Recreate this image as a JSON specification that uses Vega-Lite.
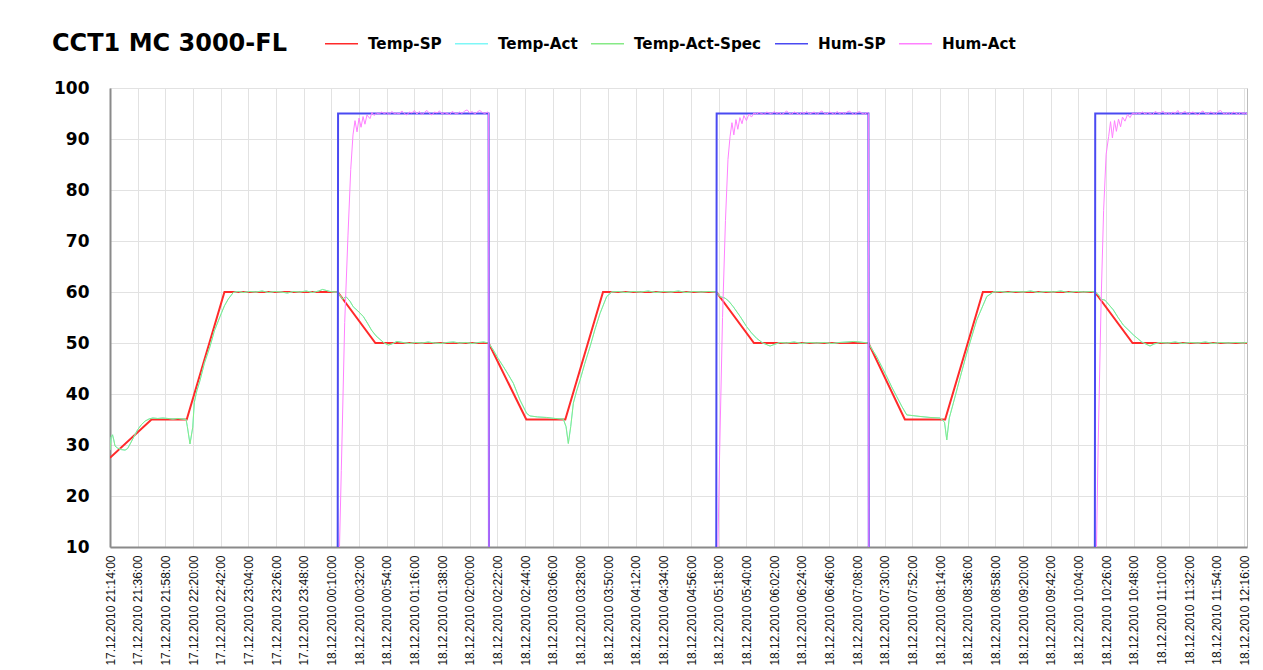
{
  "$schema": "https://vega.github.io/schema/vega-lite/v6.json",
  "width": 1137,
  "height": 459,
  "autosize": {"type": "none"},
  "padding": {"left": 110, "top": 88, "right": 16, "bottom": 123},
  "background": "white",
  "title": {
    "text": "CCT1 MC 3000-FL",
    "anchor": "start",
    "frame": "group",
    "dx": -58,
    "dy": 49,
    "offset": 0,
    "baseline": "alphabetic",
    "font": "DejaVu Sans",
    "fontSize": 24,
    "fontWeight": "bold",
    "color": "#000000"
  },
  "config": {
    "view": {"stroke": "#bcbcbc", "strokeWidth": 1}
  },
  "datasets": {
    "tempSP": [
      {"t": "2010-12-17T21:14", "v": 27.5},
      {"t": "2010-12-17T21:47", "v": 35},
      {"t": "2010-12-17T22:15", "v": 35},
      {"t": "2010-12-17T22:45", "v": 60},
      {"t": "2010-12-18T00:15", "v": 60},
      {"t": "2010-12-18T00:45", "v": 50},
      {"t": "2010-12-18T02:15", "v": 50},
      {"t": "2010-12-18T02:45", "v": 35},
      {"t": "2010-12-18T03:16", "v": 35},
      {"t": "2010-12-18T03:46", "v": 60},
      {"t": "2010-12-18T05:16", "v": 60},
      {"t": "2010-12-18T05:46", "v": 50},
      {"t": "2010-12-18T07:17", "v": 50},
      {"t": "2010-12-18T07:46", "v": 35},
      {"t": "2010-12-18T08:18", "v": 35},
      {"t": "2010-12-18T08:48", "v": 60},
      {"t": "2010-12-18T10:17", "v": 60},
      {"t": "2010-12-18T10:47", "v": 50},
      {"t": "2010-12-18T12:18", "v": 50}
    ],
    "tempAct": [
      {"t": "2010-12-17T21:14", "v": 29.0},
      {"t": "2010-12-17T21:15", "v": 31.6},
      {"t": "2010-12-17T21:16", "v": 32.0},
      {"t": "2010-12-17T21:17", "v": 31.0},
      {"t": "2010-12-17T21:18", "v": 29.8},
      {"t": "2010-12-17T21:20", "v": 29.4},
      {"t": "2010-12-17T21:23", "v": 29.1},
      {"t": "2010-12-17T21:26", "v": 29.0},
      {"t": "2010-12-17T21:28", "v": 29.3},
      {"t": "2010-12-17T21:30", "v": 30.2},
      {"t": "2010-12-17T21:33", "v": 31.6},
      {"t": "2010-12-17T21:36", "v": 33.0},
      {"t": "2010-12-17T21:39", "v": 34.0},
      {"t": "2010-12-17T21:42", "v": 34.7},
      {"t": "2010-12-17T21:45", "v": 35.1},
      {"t": "2010-12-17T21:48", "v": 35.3},
      {"t": "2010-12-17T21:52", "v": 35.2},
      {"t": "2010-12-17T21:56", "v": 35.3},
      {"t": "2010-12-17T22:00", "v": 35.2},
      {"t": "2010-12-17T22:04", "v": 35.1},
      {"t": "2010-12-17T22:08", "v": 35.2},
      {"t": "2010-12-17T22:12", "v": 35.1},
      {"t": "2010-12-17T22:14:30", "v": 35.0},
      {"t": "2010-12-17T22:15:30", "v": 33.6},
      {"t": "2010-12-17T22:17:36", "v": 30.2},
      {"t": "2010-12-17T22:19:48", "v": 33.5},
      {"t": "2010-12-17T22:21", "v": 38.3},
      {"t": "2010-12-17T22:23", "v": 40.6},
      {"t": "2010-12-17T22:25:36", "v": 42.7},
      {"t": "2010-12-17T22:29", "v": 46.0},
      {"t": "2010-12-17T22:33:30", "v": 49.3},
      {"t": "2010-12-17T22:37", "v": 52.4},
      {"t": "2010-12-17T22:41:30", "v": 55.2},
      {"t": "2010-12-17T22:45", "v": 57.3},
      {"t": "2010-12-17T22:48", "v": 58.6},
      {"t": "2010-12-17T22:52", "v": 59.9},
      {"t": "2010-12-17T22:56", "v": 60.1},
      {"t": "2010-12-17T23:00", "v": 59.9},
      {"t": "2010-12-17T23:05", "v": 60.1},
      {"t": "2010-12-17T23:10", "v": 60.0},
      {"t": "2010-12-17T23:15", "v": 60.2},
      {"t": "2010-12-17T23:20", "v": 59.9},
      {"t": "2010-12-17T23:25", "v": 60.1},
      {"t": "2010-12-17T23:30", "v": 60.0},
      {"t": "2010-12-17T23:35", "v": 59.8},
      {"t": "2010-12-17T23:40", "v": 60.1},
      {"t": "2010-12-17T23:45", "v": 60.0},
      {"t": "2010-12-17T23:50", "v": 60.2},
      {"t": "2010-12-17T23:55", "v": 59.9},
      {"t": "2010-12-18T00:00", "v": 60.2},
      {"t": "2010-12-18T00:03", "v": 60.5},
      {"t": "2010-12-18T00:06", "v": 60.3},
      {"t": "2010-12-18T00:09", "v": 60.1},
      {"t": "2010-12-18T00:12", "v": 60.0},
      {"t": "2010-12-18T00:15", "v": 60.0},
      {"t": "2010-12-18T00:17", "v": 59.3},
      {"t": "2010-12-18T00:19", "v": 58.6},
      {"t": "2010-12-18T00:21:36", "v": 59.1},
      {"t": "2010-12-18T00:24:48", "v": 58.2},
      {"t": "2010-12-18T00:27:24", "v": 57.1},
      {"t": "2010-12-18T00:31", "v": 56.3},
      {"t": "2010-12-18T00:35:24", "v": 55.2},
      {"t": "2010-12-18T00:38:42", "v": 53.9},
      {"t": "2010-12-18T00:42", "v": 52.5},
      {"t": "2010-12-18T00:45:30", "v": 51.4},
      {"t": "2010-12-18T00:48:42", "v": 50.7},
      {"t": "2010-12-18T00:52", "v": 50.0},
      {"t": "2010-12-18T00:55:18", "v": 49.6},
      {"t": "2010-12-18T00:58", "v": 49.8},
      {"t": "2010-12-18T01:02", "v": 50.3},
      {"t": "2010-12-18T01:07", "v": 50.1},
      {"t": "2010-12-18T01:12", "v": 49.9},
      {"t": "2010-12-18T01:17", "v": 50.1},
      {"t": "2010-12-18T01:22", "v": 50.0},
      {"t": "2010-12-18T01:27", "v": 50.2},
      {"t": "2010-12-18T01:32", "v": 50.0},
      {"t": "2010-12-18T01:37", "v": 49.9},
      {"t": "2010-12-18T01:42", "v": 50.1},
      {"t": "2010-12-18T01:47", "v": 50.2},
      {"t": "2010-12-18T01:52", "v": 50.0},
      {"t": "2010-12-18T01:57", "v": 50.1},
      {"t": "2010-12-18T02:02", "v": 49.9},
      {"t": "2010-12-18T02:07", "v": 50.1},
      {"t": "2010-12-18T02:11", "v": 50.2},
      {"t": "2010-12-18T02:15", "v": 50.0},
      {"t": "2010-12-18T02:18:48", "v": 48.6},
      {"t": "2010-12-18T02:22:30", "v": 47.0},
      {"t": "2010-12-18T02:26:42", "v": 45.4},
      {"t": "2010-12-18T02:30:40", "v": 43.8},
      {"t": "2010-12-18T02:34:42", "v": 42.1},
      {"t": "2010-12-18T02:40", "v": 38.8},
      {"t": "2010-12-18T02:45:18", "v": 36.2},
      {"t": "2010-12-18T02:47:54", "v": 35.7},
      {"t": "2010-12-18T02:54", "v": 35.5},
      {"t": "2010-12-18T03:01", "v": 35.4},
      {"t": "2010-12-18T03:08", "v": 35.2},
      {"t": "2010-12-18T03:14:24", "v": 35.1},
      {"t": "2010-12-18T03:16:36", "v": 33.6},
      {"t": "2010-12-18T03:18:24", "v": 30.3},
      {"t": "2010-12-18T03:20:18", "v": 33.6},
      {"t": "2010-12-18T03:22:24", "v": 38.2},
      {"t": "2010-12-18T03:25", "v": 40.6},
      {"t": "2010-12-18T03:27:42", "v": 42.7},
      {"t": "2010-12-18T03:31:30", "v": 46.0},
      {"t": "2010-12-18T03:35:42", "v": 49.3},
      {"t": "2010-12-18T03:39:30", "v": 52.6},
      {"t": "2010-12-18T03:43:36", "v": 55.8},
      {"t": "2010-12-18T03:48:54", "v": 59.1},
      {"t": "2010-12-18T03:52:54", "v": 60.0},
      {"t": "2010-12-18T03:58", "v": 60.1},
      {"t": "2010-12-18T04:04", "v": 59.9},
      {"t": "2010-12-18T04:10", "v": 60.1},
      {"t": "2010-12-18T04:16", "v": 60.0},
      {"t": "2010-12-18T04:22", "v": 60.2},
      {"t": "2010-12-18T04:28", "v": 59.9},
      {"t": "2010-12-18T04:34", "v": 60.1},
      {"t": "2010-12-18T04:40", "v": 60.0},
      {"t": "2010-12-18T04:46", "v": 60.2},
      {"t": "2010-12-18T04:52", "v": 59.9},
      {"t": "2010-12-18T04:58", "v": 60.1},
      {"t": "2010-12-18T05:04", "v": 60.0},
      {"t": "2010-12-18T05:10", "v": 60.1},
      {"t": "2010-12-18T05:16", "v": 60.0},
      {"t": "2010-12-18T05:19", "v": 59.1},
      {"t": "2010-12-18T05:23", "v": 58.8},
      {"t": "2010-12-18T05:26", "v": 58.2},
      {"t": "2010-12-18T05:29:36", "v": 57.1},
      {"t": "2010-12-18T05:35", "v": 55.2},
      {"t": "2010-12-18T05:40:12", "v": 53.2},
      {"t": "2010-12-18T05:44", "v": 52.0},
      {"t": "2010-12-18T05:48:12", "v": 50.9},
      {"t": "2010-12-18T05:53", "v": 50.0},
      {"t": "2010-12-18T05:58:48", "v": 49.4},
      {"t": "2010-12-18T06:02", "v": 49.7},
      {"t": "2010-12-18T06:06:42", "v": 50.1},
      {"t": "2010-12-18T06:12", "v": 50.0},
      {"t": "2010-12-18T06:18", "v": 50.2},
      {"t": "2010-12-18T06:24", "v": 49.9},
      {"t": "2010-12-18T06:30", "v": 50.1},
      {"t": "2010-12-18T06:36", "v": 50.0},
      {"t": "2010-12-18T06:42", "v": 50.1},
      {"t": "2010-12-18T06:48", "v": 49.9},
      {"t": "2010-12-18T06:54", "v": 50.1},
      {"t": "2010-12-18T07:00", "v": 50.2},
      {"t": "2010-12-18T07:05", "v": 50.3},
      {"t": "2010-12-18T07:10", "v": 50.2},
      {"t": "2010-12-18T07:16:54", "v": 50.0},
      {"t": "2010-12-18T07:23:36", "v": 47.3},
      {"t": "2010-12-18T07:27:30", "v": 45.4},
      {"t": "2010-12-18T07:31:36", "v": 43.4},
      {"t": "2010-12-18T07:35:30", "v": 41.4},
      {"t": "2010-12-18T07:39:30", "v": 39.5},
      {"t": "2010-12-18T07:43:30", "v": 37.6},
      {"t": "2010-12-18T07:47:30", "v": 35.9},
      {"t": "2010-12-18T07:58", "v": 35.6},
      {"t": "2010-12-18T08:06", "v": 35.4},
      {"t": "2010-12-18T08:13:54", "v": 35.3},
      {"t": "2010-12-18T08:17:30", "v": 34.5},
      {"t": "2010-12-18T08:19:18", "v": 31.0},
      {"t": "2010-12-18T08:21:18", "v": 35.3},
      {"t": "2010-12-18T08:24:30", "v": 38.2},
      {"t": "2010-12-18T08:30", "v": 43.3},
      {"t": "2010-12-18T08:35:12", "v": 48.0},
      {"t": "2010-12-18T08:43:06", "v": 54.5},
      {"t": "2010-12-18T08:51:06", "v": 59.1},
      {"t": "2010-12-18T08:56:18", "v": 60.0},
      {"t": "2010-12-18T09:02", "v": 60.1},
      {"t": "2010-12-18T09:08", "v": 59.9},
      {"t": "2010-12-18T09:14", "v": 60.1},
      {"t": "2010-12-18T09:20", "v": 60.0},
      {"t": "2010-12-18T09:26", "v": 60.2},
      {"t": "2010-12-18T09:32", "v": 59.9},
      {"t": "2010-12-18T09:38", "v": 60.1},
      {"t": "2010-12-18T09:44", "v": 60.0},
      {"t": "2010-12-18T09:50", "v": 60.2},
      {"t": "2010-12-18T09:56", "v": 59.9},
      {"t": "2010-12-18T10:02", "v": 60.1},
      {"t": "2010-12-18T10:08", "v": 60.0},
      {"t": "2010-12-18T10:14", "v": 60.1},
      {"t": "2010-12-18T10:17", "v": 60.0},
      {"t": "2010-12-18T10:19:48", "v": 59.5},
      {"t": "2010-12-18T10:22", "v": 58.6},
      {"t": "2010-12-18T10:25:06", "v": 58.4},
      {"t": "2010-12-18T10:31:42", "v": 56.5},
      {"t": "2010-12-18T10:35:30", "v": 55.0},
      {"t": "2010-12-18T10:39:42", "v": 53.5},
      {"t": "2010-12-18T10:43:30", "v": 52.6},
      {"t": "2010-12-18T10:47:36", "v": 51.6},
      {"t": "2010-12-18T10:54:18", "v": 50.2},
      {"t": "2010-12-18T11:00:54", "v": 49.4},
      {"t": "2010-12-18T11:04", "v": 49.8},
      {"t": "2010-12-18T11:08:54", "v": 50.1},
      {"t": "2010-12-18T11:15", "v": 50.0},
      {"t": "2010-12-18T11:21", "v": 50.2},
      {"t": "2010-12-18T11:27", "v": 49.9},
      {"t": "2010-12-18T11:33", "v": 50.1},
      {"t": "2010-12-18T11:39", "v": 50.0},
      {"t": "2010-12-18T11:45", "v": 50.2},
      {"t": "2010-12-18T11:51", "v": 49.9},
      {"t": "2010-12-18T11:57", "v": 50.1},
      {"t": "2010-12-18T12:03", "v": 50.0},
      {"t": "2010-12-18T12:09", "v": 50.1},
      {"t": "2010-12-18T12:15", "v": 50.0},
      {"t": "2010-12-18T12:18", "v": 50.1}
    ],
    "humSP": [
      {"t": "2010-12-17T21:14", "v": 0},
      {"t": "2010-12-18T00:15", "v": 0},
      {"t": "2010-12-18T00:15:20", "v": 95},
      {"t": "2010-12-18T02:15", "v": 95},
      {"t": "2010-12-18T02:15:20", "v": 0},
      {"t": "2010-12-18T05:16", "v": 0},
      {"t": "2010-12-18T05:16:20", "v": 95},
      {"t": "2010-12-18T07:17", "v": 95},
      {"t": "2010-12-18T07:17:20", "v": 0},
      {"t": "2010-12-18T10:17", "v": 0},
      {"t": "2010-12-18T10:17:20", "v": 95},
      {"t": "2010-12-18T12:18", "v": 95}
    ],
    "humAct": [
      {"t": "2010-12-17T21:14", "v": 0},
      {"t": "2010-12-18T00:15", "v": 0},
      {"t": "2010-12-18T00:16", "v": 5},
      {"t": "2010-12-18T00:17:54", "v": 25},
      {"t": "2010-12-18T00:20:36", "v": 54},
      {"t": "2010-12-18T00:23:12", "v": 71},
      {"t": "2010-12-18T00:25:24", "v": 84},
      {"t": "2010-12-18T00:27:12", "v": 90.8},
      {"t": "2010-12-18T00:28:48", "v": 93.6},
      {"t": "2010-12-18T00:30:24", "v": 91.4},
      {"t": "2010-12-18T00:32:00", "v": 94.1},
      {"t": "2010-12-18T00:33:36", "v": 92.3},
      {"t": "2010-12-18T00:35:12", "v": 94.4},
      {"t": "2010-12-18T00:36:42", "v": 92.9},
      {"t": "2010-12-18T00:38:18", "v": 94.7},
      {"t": "2010-12-18T00:40:42", "v": 94.0},
      {"t": "2010-12-18T00:42:18", "v": 95.2},
      {"t": "2010-12-18T00:43:54", "v": 94.6},
      {"t": "2010-12-18T00:46", "v": 95.1},
      {"t": "2010-12-18T00:48", "v": 94.9},
      {"t": "2010-12-18T00:50", "v": 95.3},
      {"t": "2010-12-18T00:52", "v": 95.0},
      {"t": "2010-12-18T00:54", "v": 95.2},
      {"t": "2010-12-18T00:56", "v": 94.8},
      {"t": "2010-12-18T00:58", "v": 95.4},
      {"t": "2010-12-18T01:00", "v": 95.0},
      {"t": "2010-12-18T01:02", "v": 95.1},
      {"t": "2010-12-18T01:04", "v": 94.9},
      {"t": "2010-12-18T01:06", "v": 95.5},
      {"t": "2010-12-18T01:08", "v": 95.0},
      {"t": "2010-12-18T01:10", "v": 94.7},
      {"t": "2010-12-18T01:12", "v": 95.3},
      {"t": "2010-12-18T01:14", "v": 95.1},
      {"t": "2010-12-18T01:16", "v": 95.6},
      {"t": "2010-12-18T01:18", "v": 94.9},
      {"t": "2010-12-18T01:20", "v": 95.4},
      {"t": "2010-12-18T01:22", "v": 94.8},
      {"t": "2010-12-18T01:24", "v": 95.2},
      {"t": "2010-12-18T01:26", "v": 95.6},
      {"t": "2010-12-18T01:28", "v": 95.0},
      {"t": "2010-12-18T01:30", "v": 94.7},
      {"t": "2010-12-18T01:32", "v": 95.3},
      {"t": "2010-12-18T01:34", "v": 95.1},
      {"t": "2010-12-18T01:36", "v": 95.5},
      {"t": "2010-12-18T01:38", "v": 94.9},
      {"t": "2010-12-18T01:40", "v": 95.2},
      {"t": "2010-12-18T01:42", "v": 95.0},
      {"t": "2010-12-18T01:44", "v": 94.8},
      {"t": "2010-12-18T01:46", "v": 95.4},
      {"t": "2010-12-18T01:48", "v": 95.1},
      {"t": "2010-12-18T01:50", "v": 94.9},
      {"t": "2010-12-18T01:52", "v": 95.3},
      {"t": "2010-12-18T01:54", "v": 95.0},
      {"t": "2010-12-18T01:56", "v": 95.5},
      {"t": "2010-12-18T01:58", "v": 95.7},
      {"t": "2010-12-18T02:00", "v": 95.1},
      {"t": "2010-12-18T02:02", "v": 95.4},
      {"t": "2010-12-18T02:04", "v": 94.9},
      {"t": "2010-12-18T02:06", "v": 95.3},
      {"t": "2010-12-18T02:08", "v": 95.6},
      {"t": "2010-12-18T02:10", "v": 95.2},
      {"t": "2010-12-18T02:12", "v": 95.0},
      {"t": "2010-12-18T02:14", "v": 95.3},
      {"t": "2010-12-18T02:15", "v": 95.1},
      {"t": "2010-12-18T02:15:20", "v": 0},
      {"t": "2010-12-18T05:16", "v": 0},
      {"t": "2010-12-18T05:17", "v": 5},
      {"t": "2010-12-18T05:18:40", "v": 28},
      {"t": "2010-12-18T05:21", "v": 55},
      {"t": "2010-12-18T05:23:20", "v": 74},
      {"t": "2010-12-18T05:25:20", "v": 86},
      {"t": "2010-12-18T05:27", "v": 90.5},
      {"t": "2010-12-18T05:28:30", "v": 93.2},
      {"t": "2010-12-18T05:30", "v": 90.8},
      {"t": "2010-12-18T05:31:40", "v": 93.8},
      {"t": "2010-12-18T05:33:10", "v": 91.9},
      {"t": "2010-12-18T05:34:50", "v": 94.2},
      {"t": "2010-12-18T05:36:30", "v": 93.0},
      {"t": "2010-12-18T05:38", "v": 94.6},
      {"t": "2010-12-18T05:40", "v": 93.6},
      {"t": "2010-12-18T05:42", "v": 94.9},
      {"t": "2010-12-18T05:44", "v": 94.3},
      {"t": "2010-12-18T05:46", "v": 95.1},
      {"t": "2010-12-18T05:48", "v": 94.9},
      {"t": "2010-12-18T05:50", "v": 95.2},
      {"t": "2010-12-18T05:52", "v": 95.0},
      {"t": "2010-12-18T05:54", "v": 94.8},
      {"t": "2010-12-18T05:56", "v": 95.3},
      {"t": "2010-12-18T05:58", "v": 95.1},
      {"t": "2010-12-18T06:00", "v": 94.9},
      {"t": "2010-12-18T06:02", "v": 95.4},
      {"t": "2010-12-18T06:04", "v": 95.0},
      {"t": "2010-12-18T06:06", "v": 95.2},
      {"t": "2010-12-18T06:08", "v": 94.8},
      {"t": "2010-12-18T06:10", "v": 95.1},
      {"t": "2010-12-18T06:12", "v": 95.5},
      {"t": "2010-12-18T06:14", "v": 95.0},
      {"t": "2010-12-18T06:16", "v": 94.9},
      {"t": "2010-12-18T06:18", "v": 95.3},
      {"t": "2010-12-18T06:20", "v": 95.1},
      {"t": "2010-12-18T06:22", "v": 94.8},
      {"t": "2010-12-18T06:24", "v": 95.2},
      {"t": "2010-12-18T06:26", "v": 95.0},
      {"t": "2010-12-18T06:28", "v": 95.4},
      {"t": "2010-12-18T06:30", "v": 94.9},
      {"t": "2010-12-18T06:32", "v": 95.1},
      {"t": "2010-12-18T06:34", "v": 95.3},
      {"t": "2010-12-18T06:36", "v": 94.8},
      {"t": "2010-12-18T06:38", "v": 95.2},
      {"t": "2010-12-18T06:40", "v": 95.5},
      {"t": "2010-12-18T06:42", "v": 95.0},
      {"t": "2010-12-18T06:44", "v": 94.9},
      {"t": "2010-12-18T06:46", "v": 95.3},
      {"t": "2010-12-18T06:48", "v": 95.1},
      {"t": "2010-12-18T06:50", "v": 94.8},
      {"t": "2010-12-18T06:52", "v": 95.4},
      {"t": "2010-12-18T06:54", "v": 95.0},
      {"t": "2010-12-18T06:56", "v": 95.2},
      {"t": "2010-12-18T06:58", "v": 94.9},
      {"t": "2010-12-18T07:00", "v": 95.3},
      {"t": "2010-12-18T07:02", "v": 95.5},
      {"t": "2010-12-18T07:04", "v": 95.0},
      {"t": "2010-12-18T07:06", "v": 94.8},
      {"t": "2010-12-18T07:08", "v": 95.2},
      {"t": "2010-12-18T07:10", "v": 95.4},
      {"t": "2010-12-18T07:12", "v": 95.0},
      {"t": "2010-12-18T07:14", "v": 94.9},
      {"t": "2010-12-18T07:16", "v": 95.2},
      {"t": "2010-12-18T07:17", "v": 95.0},
      {"t": "2010-12-18T07:17:20", "v": 0},
      {"t": "2010-12-18T10:17", "v": 0},
      {"t": "2010-12-18T10:18", "v": 5},
      {"t": "2010-12-18T10:19:40", "v": 30},
      {"t": "2010-12-18T10:22", "v": 58},
      {"t": "2010-12-18T10:24", "v": 76},
      {"t": "2010-12-18T10:26", "v": 87},
      {"t": "2010-12-18T10:28", "v": 90.5},
      {"t": "2010-12-18T10:29:30", "v": 93.4},
      {"t": "2010-12-18T10:31", "v": 90.2},
      {"t": "2010-12-18T10:32:40", "v": 93.6},
      {"t": "2010-12-18T10:34:10", "v": 91.5},
      {"t": "2010-12-18T10:35:50", "v": 93.9},
      {"t": "2010-12-18T10:37:30", "v": 92.4},
      {"t": "2010-12-18T10:39", "v": 94.3},
      {"t": "2010-12-18T10:41", "v": 93.5},
      {"t": "2010-12-18T10:43", "v": 94.8},
      {"t": "2010-12-18T10:45", "v": 94.2},
      {"t": "2010-12-18T10:47", "v": 95.1},
      {"t": "2010-12-18T10:49", "v": 94.9},
      {"t": "2010-12-18T10:51", "v": 95.1},
      {"t": "2010-12-18T10:53", "v": 95.0},
      {"t": "2010-12-18T10:55", "v": 95.3},
      {"t": "2010-12-18T10:57", "v": 94.9},
      {"t": "2010-12-18T10:59", "v": 95.2},
      {"t": "2010-12-18T11:01", "v": 95.0},
      {"t": "2010-12-18T11:03", "v": 94.8},
      {"t": "2010-12-18T11:05", "v": 95.4},
      {"t": "2010-12-18T11:07", "v": 95.1},
      {"t": "2010-12-18T11:09", "v": 95.0},
      {"t": "2010-12-18T11:11", "v": 95.5},
      {"t": "2010-12-18T11:13", "v": 94.9},
      {"t": "2010-12-18T11:15", "v": 95.2},
      {"t": "2010-12-18T11:17", "v": 94.8},
      {"t": "2010-12-18T11:19", "v": 95.3},
      {"t": "2010-12-18T11:21", "v": 95.0},
      {"t": "2010-12-18T11:23", "v": 95.6},
      {"t": "2010-12-18T11:25", "v": 94.9},
      {"t": "2010-12-18T11:27", "v": 95.2},
      {"t": "2010-12-18T11:29", "v": 95.4},
      {"t": "2010-12-18T11:31", "v": 94.8},
      {"t": "2010-12-18T11:33", "v": 95.1},
      {"t": "2010-12-18T11:35", "v": 95.3},
      {"t": "2010-12-18T11:37", "v": 95.0},
      {"t": "2010-12-18T11:39", "v": 94.7},
      {"t": "2010-12-18T11:41", "v": 95.2},
      {"t": "2010-12-18T11:43", "v": 95.5},
      {"t": "2010-12-18T11:45", "v": 95.0},
      {"t": "2010-12-18T11:47", "v": 94.9},
      {"t": "2010-12-18T11:49", "v": 95.3},
      {"t": "2010-12-18T11:51", "v": 95.1},
      {"t": "2010-12-18T11:53", "v": 94.8},
      {"t": "2010-12-18T11:55", "v": 95.4},
      {"t": "2010-12-18T11:57", "v": 95.6},
      {"t": "2010-12-18T11:59", "v": 95.0},
      {"t": "2010-12-18T12:01", "v": 94.9},
      {"t": "2010-12-18T12:03", "v": 95.2},
      {"t": "2010-12-18T12:05", "v": 94.7},
      {"t": "2010-12-18T12:07", "v": 95.3},
      {"t": "2010-12-18T12:09", "v": 95.1},
      {"t": "2010-12-18T12:11", "v": 94.8},
      {"t": "2010-12-18T12:13", "v": 95.2},
      {"t": "2010-12-18T12:15", "v": 95.0},
      {"t": "2010-12-18T12:17", "v": 95.1},
      {"t": "2010-12-18T12:18", "v": 94.9}
    ]
  },
  "encoding": {
    "x": {
      "field": "t",
      "type": "temporal",
      "title": null,
      "scale": {
        "domain": [
          {"year": 2010, "month": 12, "date": 17, "hours": 21, "minutes": 14},
          {"year": 2010, "month": 12, "date": 18, "hours": 12, "minutes": 18}
        ],
        "nice": false
      },
      "axis": {
        "values": [
          {"year": 2010, "month": 12, "date": 17, "hours": 21, "minutes": 14},
          {"year": 2010, "month": 12, "date": 17, "hours": 21, "minutes": 36},
          {"year": 2010, "month": 12, "date": 17, "hours": 21, "minutes": 58},
          {"year": 2010, "month": 12, "date": 17, "hours": 22, "minutes": 20},
          {"year": 2010, "month": 12, "date": 17, "hours": 22, "minutes": 42},
          {"year": 2010, "month": 12, "date": 17, "hours": 23, "minutes": 4},
          {"year": 2010, "month": 12, "date": 17, "hours": 23, "minutes": 26},
          {"year": 2010, "month": 12, "date": 17, "hours": 23, "minutes": 48},
          {"year": 2010, "month": 12, "date": 18, "hours": 0, "minutes": 10},
          {"year": 2010, "month": 12, "date": 18, "hours": 0, "minutes": 32},
          {"year": 2010, "month": 12, "date": 18, "hours": 0, "minutes": 54},
          {"year": 2010, "month": 12, "date": 18, "hours": 1, "minutes": 16},
          {"year": 2010, "month": 12, "date": 18, "hours": 1, "minutes": 38},
          {"year": 2010, "month": 12, "date": 18, "hours": 2, "minutes": 0},
          {"year": 2010, "month": 12, "date": 18, "hours": 2, "minutes": 22},
          {"year": 2010, "month": 12, "date": 18, "hours": 2, "minutes": 44},
          {"year": 2010, "month": 12, "date": 18, "hours": 3, "minutes": 6},
          {"year": 2010, "month": 12, "date": 18, "hours": 3, "minutes": 28},
          {"year": 2010, "month": 12, "date": 18, "hours": 3, "minutes": 50},
          {"year": 2010, "month": 12, "date": 18, "hours": 4, "minutes": 12},
          {"year": 2010, "month": 12, "date": 18, "hours": 4, "minutes": 34},
          {"year": 2010, "month": 12, "date": 18, "hours": 4, "minutes": 56},
          {"year": 2010, "month": 12, "date": 18, "hours": 5, "minutes": 18},
          {"year": 2010, "month": 12, "date": 18, "hours": 5, "minutes": 40},
          {"year": 2010, "month": 12, "date": 18, "hours": 6, "minutes": 2},
          {"year": 2010, "month": 12, "date": 18, "hours": 6, "minutes": 24},
          {"year": 2010, "month": 12, "date": 18, "hours": 6, "minutes": 46},
          {"year": 2010, "month": 12, "date": 18, "hours": 7, "minutes": 8},
          {"year": 2010, "month": 12, "date": 18, "hours": 7, "minutes": 30},
          {"year": 2010, "month": 12, "date": 18, "hours": 7, "minutes": 52},
          {"year": 2010, "month": 12, "date": 18, "hours": 8, "minutes": 14},
          {"year": 2010, "month": 12, "date": 18, "hours": 8, "minutes": 36},
          {"year": 2010, "month": 12, "date": 18, "hours": 8, "minutes": 58},
          {"year": 2010, "month": 12, "date": 18, "hours": 9, "minutes": 20},
          {"year": 2010, "month": 12, "date": 18, "hours": 9, "minutes": 42},
          {"year": 2010, "month": 12, "date": 18, "hours": 10, "minutes": 4},
          {"year": 2010, "month": 12, "date": 18, "hours": 10, "minutes": 26},
          {"year": 2010, "month": 12, "date": 18, "hours": 10, "minutes": 48},
          {"year": 2010, "month": 12, "date": 18, "hours": 11, "minutes": 10},
          {"year": 2010, "month": 12, "date": 18, "hours": 11, "minutes": 32},
          {"year": 2010, "month": 12, "date": 18, "hours": 11, "minutes": 54},
          {"year": 2010, "month": 12, "date": 18, "hours": 12, "minutes": 16}
        ],
        "format": "%d.%m.%Y %H:%M:%S",
        "labelAngle": 270,
        "labelFont": "Liberation Sans",
        "labelFontSize": 12,
        "labelColor": "#111111",
        "labelPadding": 8,
        "labelOverlap": false,
        "labelFlush": false,
        "labelBound": false,
        "ticks": false,
        "domainColor": "#8a8a8a",
        "domainWidth": 2,
        "grid": true,
        "gridColor": "#e2e2e2",
        "gridWidth": 1
      }
    },
    "y": {
      "field": "v",
      "type": "quantitative",
      "title": null,
      "scale": {"domain": [10, 100], "nice": false},
      "axis": {
        "values": [10, 20, 30, 40, 50, 60, 70, 80, 90, 100],
        "labelFont": "DejaVu Sans",
        "labelFontWeight": "bold",
        "labelFontSize": 17,
        "labelColor": "#000000",
        "labelPadding": 21,
        "labelFlush": false,
        "ticks": false,
        "domainColor": "#8a8a8a",
        "domainWidth": 2,
        "grid": true,
        "gridColor": "#e2e2e2",
        "gridWidth": 1
      }
    }
  },
  "layer": [
    {
      "data": {"name": "tempSP"},
      "mark": {"type": "line", "strokeWidth": 2, "clip": true},
      "encoding": {
        "color": {
          "datum": "Temp-SP",
          "type": "nominal",
          "scale": {
            "domain": ["Temp-SP", "Temp-Act", "Temp-Act-Spec", "Hum-SP", "Hum-Act"],
            "range": ["#ff2a2a", "#7ff7f7", "#86ea86", "#4a4af2", "#ff80ff"]
          },
          "legend": {
            "title": null,
            "orient": "none",
            "direction": "horizontal",
            "legendX": 214,
            "legendY": -62,
            "padding": 0,
            "symbolType": "stroke",
            "symbolSize": 1089,
            "symbolStrokeWidth": 1.5,
            "labelFont": "DejaVu Sans",
            "labelFontWeight": "bold",
            "labelFontSize": 15.2,
            "labelColor": "#000000",
            "labelOffset": 9,
            "labelLimit": 300,
            "columnPadding": 10
          }
        }
      }
    },
    {
      "data": {"name": "tempAct"},
      "mark": {"type": "line", "strokeWidth": 1, "clip": true},
      "encoding": {"color": {"datum": "Temp-Act", "type": "nominal"}}
    },
    {
      "data": {"name": "tempAct"},
      "mark": {"type": "line", "strokeWidth": 1, "clip": true},
      "encoding": {"color": {"datum": "Temp-Act-Spec", "type": "nominal"}}
    },
    {
      "data": {"name": "humSP"},
      "mark": {"type": "line", "strokeWidth": 2, "clip": true},
      "encoding": {"color": {"datum": "Hum-SP", "type": "nominal"}}
    },
    {
      "data": {"name": "humAct"},
      "mark": {"type": "line", "strokeWidth": 1, "clip": true},
      "encoding": {"color": {"datum": "Hum-Act", "type": "nominal"}}
    }
  ]
}
